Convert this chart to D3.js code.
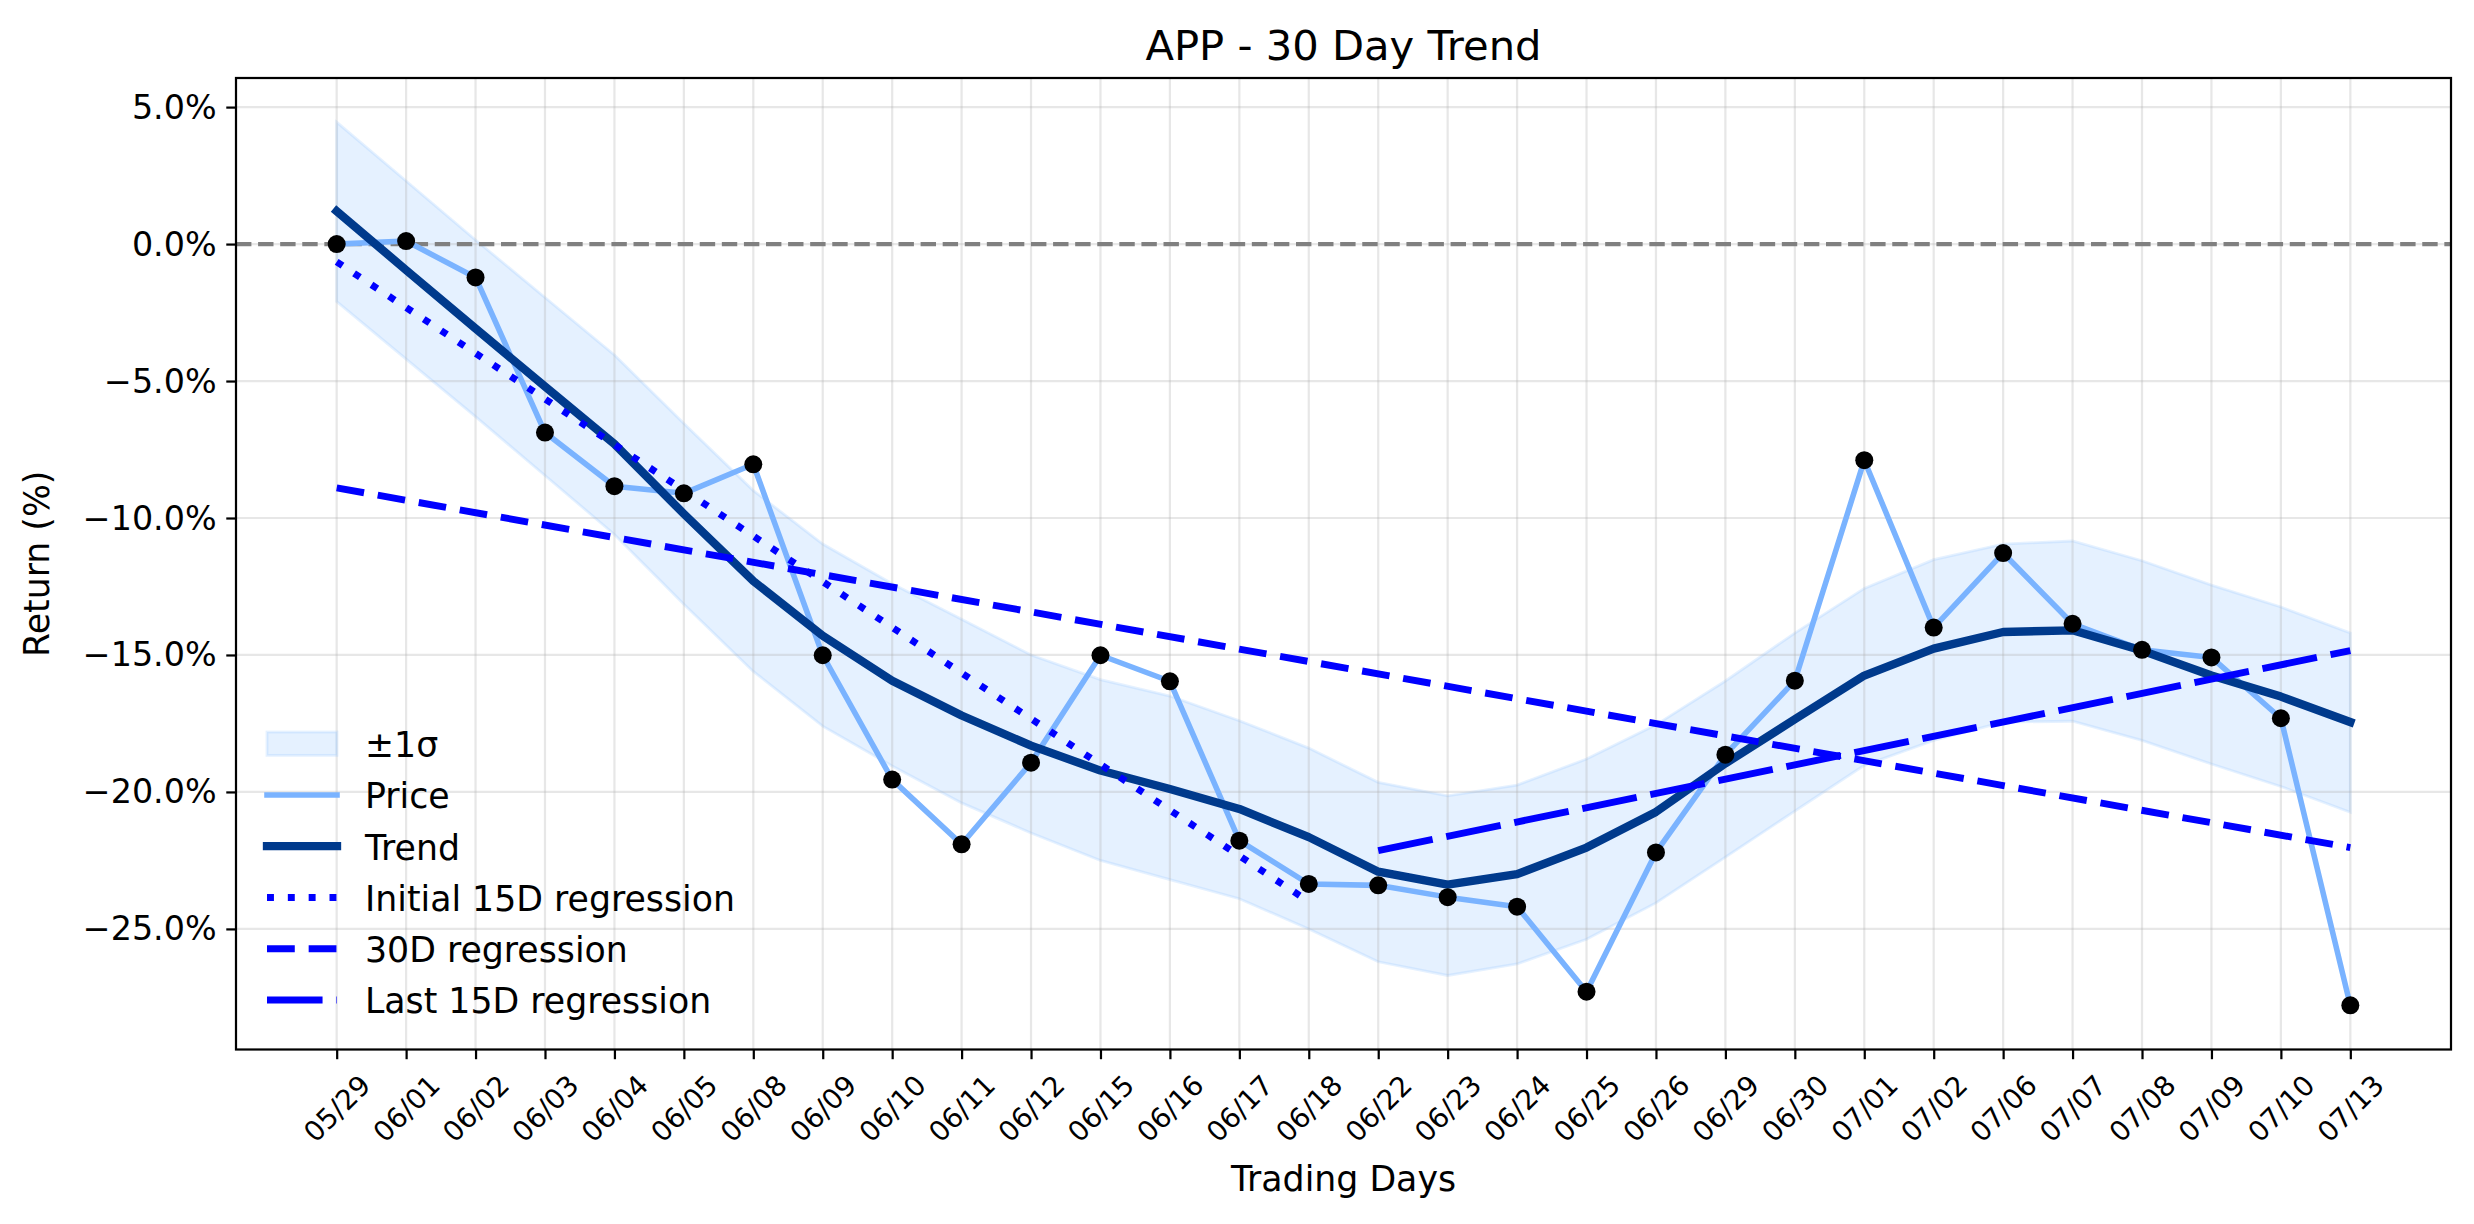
<!DOCTYPE html>
<html><head><meta charset="utf-8">
<script src="https://cdn.jsdelivr.net/npm/d3@7"></script>
<style>
body{margin:0;background:#fff}
svg{display:block}
text{font-family:"DejaVu Sans",sans-serif;fill:#000}
</style>
</head><body>
<svg id="chart" width="2474" height="1224"></svg>
<script>
// ---------------- data ----------------
const dates = ["05/29","06/01","06/02","06/03","06/04","06/05","06/08","06/09","06/10","06/11",
  "06/12","06/15","06/16","06/17","06/18","06/22","06/23","06/24","06/25","06/26",
  "06/29","06/30","07/01","07/02","07/06","07/07","07/08","07/09","07/10","07/13"];
const price = [0.0, 0.11, -1.22, -6.88, -8.84, -9.10, -8.04, -15.01, -19.55, -21.91,
  -18.93, -15.01, -15.96, -21.78, -23.36, -23.41, -23.84, -24.19, -27.29, -22.21,
  -18.64, -15.94, -7.89, -14.00, -11.28, -13.86, -14.81, -15.09, -17.31, -27.79];
const trend = [1.2, -0.95, -3.08, -5.2, -7.3, -9.85, -12.3, -14.3, -15.94, -17.21,
  -18.31, -19.22, -19.89, -20.62, -21.65, -22.91, -23.38, -23.0, -22.03, -20.73,
  -18.96, -17.35, -15.75, -14.77, -14.16, -14.1, -14.84, -15.75, -16.52, -17.45];
const bandUpper = [4.45, 2.3, 0.15, -1.95, -4.05, -6.55, -9.0, -10.95, -12.4, -13.7,
  -15.0, -15.9, -16.5, -17.4, -18.4, -19.65, -20.14, -19.75, -18.8, -17.55,
  -15.95, -14.2, -12.57, -11.52, -10.95, -10.84, -11.56, -12.45, -13.25, -14.2];
const bandLower = [-2.1, -4.2, -6.3, -8.45, -10.6, -13.15, -15.6, -17.6, -19.05, -20.4,
  -21.5, -22.5, -23.2, -23.9, -25.0, -26.2, -26.7, -26.28, -25.38, -24.05,
  -22.38, -20.7, -19.03, -18.12, -17.45, -17.42, -18.12, -18.98, -19.8, -20.74];
const initialRegDates = ["05/29","06/18"], initialRegValues = [-0.65, -24.0];
const fullRegDates    = ["05/29","07/13"], fullRegValues    = [-8.9, -22.03];
const lastRegDates    = ["06/22","07/13"], lastRegValues    = [-22.14, -14.84];
const yTicks = [5, 0, -5, -10, -15, -20, -25];
const chartTitle = "APP - 30 Day Trend";
const xTitle = "Trading Days";
const yTitle = "Return (%)";
const legendLabels = ["±1σ","Price","Trend","Initial 15D regression","30D regression","Last 15D regression"];

// ---------------- layout ----------------
const PT = 200/72;
const box = {left:236, right:2451, top:78, bottom:1049.5};
const n = dates.length;
const svg = d3.select("#chart");

const x = d3.scaleLinear().domain([-0.05*(n-1), (n-1)*1.05]).range([box.left, box.right]);
const allY = price.concat(trend, bandUpper, bandLower, initialRegValues, fullRegValues, lastRegValues);
const [ymin, ymax] = d3.extent(allY);
const ypad = (ymax - ymin)*0.05;
const y = d3.scaleLinear().domain([ymin - ypad, ymax + ypad]).range([box.bottom, box.top]);
const xi = d => dates.indexOf(d);

const COL = {band:"#99c9ff", price:"#7ab3ff", trend:"#003a8c", reg:"#0000ff", zero:"#808080"};
const styles = {
  dotted: {w:2.5*PT, dash:`${1*2.5*PT} ${2*2.5*PT}`},
  dashed: {w:2.5*PT, dash:`${4*2.5*PT} ${2*2.5*PT}`},
  longdash: {w:2.5*PT, dash:`${8*2.5*PT} ${2*2.5*PT}`}
};

// clip
svg.append("defs").append("clipPath").attr("id","clip").append("rect")
  .attr("x",box.left).attr("y",box.top).attr("width",box.right-box.left).attr("height",box.bottom-box.top);
const plot = svg.append("g").attr("clip-path","url(#clip)");

// band
const area = d3.area().x((d,i)=>x(i)).y0((d,i)=>y(bandLower[i])).y1(d=>y(d));
plot.append("path").datum(bandUpper).attr("d",area)
  .attr("fill",COL.band).attr("fill-opacity",0.25)
  .attr("stroke",COL.band).attr("stroke-opacity",0.25).attr("stroke-width",1*PT);

// grid
const grid = plot.append("g").attr("stroke","#b0b0b0").attr("stroke-opacity",0.3).attr("stroke-width",0.8*PT);
grid.selectAll("line.v").data(d3.range(n)).join("line").attr("class","v")
  .attr("x1",i=>x(i)).attr("x2",i=>x(i)).attr("y1",box.top).attr("y2",box.bottom);
grid.selectAll("line.h").data(yTicks).join("line").attr("class","h")
  .attr("x1",box.left).attr("x2",box.right).attr("y1",d=>y(d)).attr("y2",d=>y(d));

// zero line
plot.append("line").attr("x1",box.left).attr("x2",box.right).attr("y1",y(0)).attr("y2",y(0))
  .attr("stroke",COL.zero).attr("stroke-width",1.5*PT).attr("stroke-dasharray",`${3.7*1.5*PT} ${1.6*1.5*PT}`);

const line = d3.line().x((d,i)=>x(i)).y(d=>y(d));
plot.append("path").datum(price).attr("d",line).attr("fill","none")
  .attr("stroke",COL.price).attr("stroke-width",2*PT).attr("stroke-linejoin","round").attr("stroke-linecap","square");
plot.append("path").datum(trend).attr("d",line).attr("fill","none")
  .attr("stroke",COL.trend).attr("stroke-width",3*PT).attr("stroke-linejoin","round").attr("stroke-linecap","square");

function regLine(ds, vs, st){
  plot.append("line")
    .attr("x1",x(xi(ds[0]))).attr("y1",y(vs[0])).attr("x2",x(xi(ds[1]))).attr("y2",y(vs[1]))
    .attr("stroke",COL.reg).attr("stroke-width",st.w).attr("stroke-dasharray",st.dash).attr("stroke-linecap","butt");
}
regLine(initialRegDates, initialRegValues, styles.dotted);
regLine(fullRegDates, fullRegValues, styles.dashed);
regLine(lastRegDates, lastRegValues, styles.longdash);

// markers
plot.selectAll("circle.pt").data(price).join("circle").attr("class","pt")
  .attr("cx",(d,i)=>x(i)).attr("cy",d=>y(d)).attr("r",9).attr("fill","#000");

// axes
const tickLen = 3.5*PT, tickPad = 3.5*PT;
const yAxis = svg.append("g").attr("transform",`translate(${box.left},0)`)
  .call(d3.axisLeft(y).tickValues(yTicks).tickSize(tickLen).tickPadding(tickPad)
    .tickFormat(d=>d3.format(".1f")(d)+"%"));
yAxis.select(".domain").remove();
yAxis.selectAll(".tick line").attr("stroke","#000").attr("stroke-width",0.8*PT);
yAxis.selectAll(".tick text").attr("font-size",12*PT).attr("font-family","DejaVu Sans").attr("dy","0.33em");

const xAxis = svg.append("g").attr("transform",`translate(0,${box.bottom})`)
  .call(d3.axisBottom(x).tickValues(d3.range(n)).tickSize(tickLen).tickFormat(i=>dates[i]));
xAxis.select(".domain").remove();
xAxis.selectAll(".tick line").attr("stroke","#000").attr("stroke-width",0.8*PT);
xAxis.selectAll(".tick text").each(function(){
  const t = d3.select(this);
  t.attr("font-size",10*PT).attr("font-family","DejaVu Sans").attr("y",null).attr("dy",null)
   .attr("text-anchor","middle").attr("dominant-baseline","central");
  const w = this.getComputedTextLength();
  const h = 1.164*10*PT;
  const half = (w+h)/(2*Math.SQRT2);
  const cy = tickLen + tickPad + half;
  t.attr("transform",`translate(0,${cy}) rotate(-45)`);
});

// spines
svg.append("rect").attr("x",box.left).attr("y",box.top).attr("width",box.right-box.left).attr("height",box.bottom-box.top)
  .attr("fill","none").attr("stroke","#000").attr("stroke-width",0.8*PT);

// titles
svg.append("text").attr("x",(box.left+box.right)/2).attr("y",60).attr("text-anchor","middle")
  .attr("font-size",15*PT).text(chartTitle);
svg.append("text").attr("x",(box.left+box.right)/2).attr("y",1191).attr("text-anchor","middle")
  .attr("font-size",12.5*PT).text(xTitle);
svg.append("text").attr("transform",`translate(49,${(box.top+box.bottom)/2}) rotate(-90)`).attr("text-anchor","middle")
  .attr("font-size",12.5*PT).text(yTitle);

// legend
const lg = svg.append("g");
const hx0 = 267, hx1 = 337, tx = 365, row0 = 743.7, rowH = 51.25;
legendLabels.forEach((lab,i)=>{
  const cy = row0 + i*rowH;
  if(i===0){
    lg.append("rect").attr("x",hx0).attr("y",cy-0.35*12*PT).attr("width",hx1-hx0).attr("height",0.7*12*PT)
      .attr("fill",COL.band).attr("fill-opacity",0.25).attr("stroke",COL.band).attr("stroke-opacity",0.25).attr("stroke-width",1*PT);
  } else {
    const l = lg.append("line").attr("x1",hx0).attr("x2",hx1).attr("y1",cy).attr("y2",cy);
    if(i===1) l.attr("stroke",COL.price).attr("stroke-width",2*PT).attr("stroke-linecap","square");
    if(i===2) l.attr("stroke",COL.trend).attr("stroke-width",3*PT).attr("stroke-linecap","square");
    const st = [null,null,null,styles.dotted,styles.dashed,styles.longdash][i];
    if(st) l.attr("stroke",COL.reg).attr("stroke-width",st.w).attr("stroke-dasharray",st.dash);
  }
  lg.append("text").attr("x",tx).attr("y",cy+13.5).attr("font-size",12.5*PT).text(lab);
});
</script>
</body></html>
